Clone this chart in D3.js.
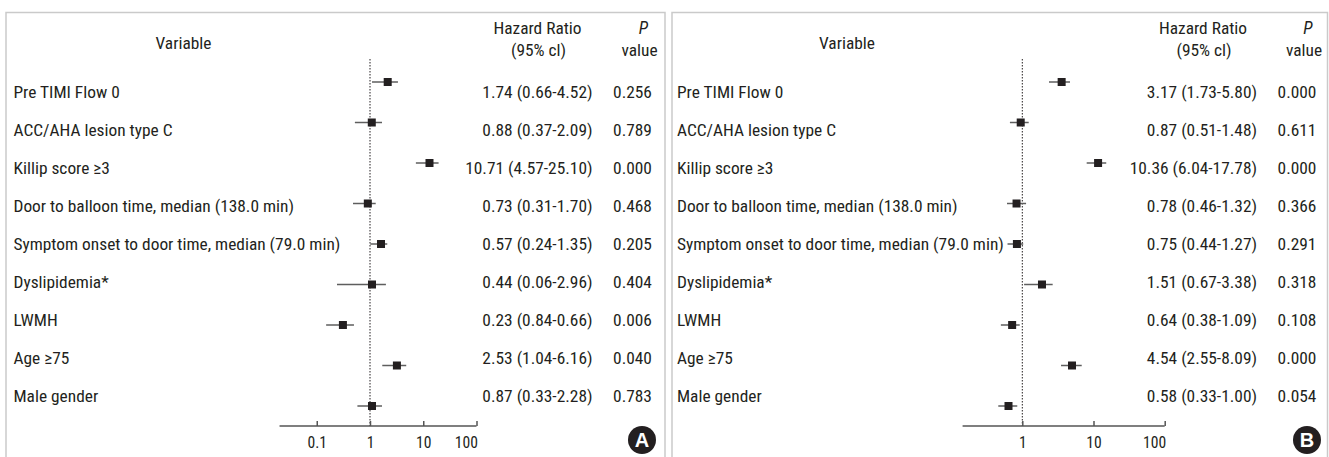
<!DOCTYPE html>
<html>
<head>
<meta charset="utf-8">
<script src="https://cdn.jsdelivr.net/npm/d3@7"></script>
<style>
  body { margin: 0; background: #fff; }
  svg text { font-family: "Liberation Sans Narrow", "Arial Narrow", Roboto, sans-serif; font-stretch: condensed; fill: #231f20; }
</style>
</head>
<body>
<svg id="chart"></svg>
<script>
// row labels (same in both panels)
var variables = [
  "Pre TIMI Flow 0",
  "ACC/AHA lesion type C",
  "Killip score \u22653",
  "Door to balloon time, median (138.0 min)",
  "Symptom onset to door time, median (79.0 min)",
  "Dyslipidemia*",
  "LWMH",
  "Age \u226575",
  "Male gender"
];

// printed columns, panel A
var hrTextA = ["1.74 (0.66-4.52)", "0.88 (0.37-2.09)", "10.71 (4.57-25.10)", "0.73 (0.31-1.70)",
  "0.57 (0.24-1.35)", "0.44 (0.06-2.96)", "0.23 (0.84-0.66)", "2.53 (1.04-6.16)", "0.87 (0.33-2.28)"];
var pTextA = ["0.256", "0.789", "0.000", "0.468", "0.205", "0.404", "0.006", "0.040", "0.783"];

// printed columns, panel B
var hrTextB = ["3.17 (1.73-5.80)", "0.87 (0.51-1.48)", "10.36 (6.04-17.78)", "0.78 (0.46-1.32)",
  "0.75 (0.44-1.27)", "1.51 (0.67-3.38)", "0.64 (0.38-1.09)", "4.54 (2.55-8.09)", "0.58 (0.33-1.00)"];
var pTextB = ["0.000", "0.611", "0.000", "0.366", "0.291", "0.318", "0.108", "0.000", "0.054"];

// plotted marks (they do not sit exactly at the printed values)
var estA  = [2.15, 1.08, 13.1, 0.91, 1.61, 1.09, 0.31, 3.2, 1.09];
var lowA  = [1.09, 0.52, 7.27, 0.48, 1.01, 0.24, 0.15, 1.70, 0.58];
var highA = [3.35, 1.68, 19.4, 1.28, 2.11, 1.99, 0.50, 4.79, 1.68];

var estB  = [3.57, 0.95, 11.6, 0.83, 0.84, 1.89, 0.72, 4.99, 0.64];
var lowB  = [2.37, 0.67, 8.02, 0.61, 0.62, 1.06, 0.50, 3.50, 0.46];
var highB = [4.68, 1.23, 15.1, 1.13, 1.03, 2.67, 0.92, 6.83, 0.85];

var ticksA = [0.1, 1, 10, 100];
var ticksB = [1, 10, 100];

var width = 1329, height = 457;
var svg = d3.select("#chart").attr("width", width).attr("height", height);

// pick a font size so the longest label is as wide as in the original (~327px)
var probe = svg.append("text").style("font-size", "20px").text(variables[4]);
var fontSize = 20 * 327 / probe.node().getComputedTextLength();
probe.remove();
var tickSize = fontSize * 0.9;

// text rows and marker rows are spaced a little differently in the original
var textY = d3.scalePoint().domain(d3.range(9)).range([92, 396]);
var markY = d3.scalePoint().domain(d3.range(9)).range([82, 406]);

function drawPanel(p) {
  var g = svg.append("g").style("font-size", fontSize + "px");

  // frame (open at bottom)
  g.append("path")
    .attr("d", "M" + p.left + "," + height + "V12.5H" + p.right + "V" + height)
    .attr("fill", "none")
    .attr("stroke", "#cacaca")
    .attr("stroke-width", 1.5);

  // headers
  g.append("text").attr("x", p.varX).attr("y", 43).attr("text-anchor", "middle")
    .attr("dy", "0.35em").text("Variable");
  g.append("text").attr("x", p.hrHeadX).attr("y", 28).attr("text-anchor", "middle")
    .attr("dy", "0.35em").text("Hazard Ratio");
  g.append("text").attr("x", p.hrHeadX + 1).attr("y", 50).attr("text-anchor", "middle")
    .attr("dy", "0.35em").text("(95% cl)");
  g.append("text").attr("x", p.pHeadX + 4).attr("y", 28).attr("text-anchor", "middle")
    .attr("dy", "0.35em").style("font-style", "italic").text("P");
  g.append("text").attr("x", p.pHeadX).attr("y", 50).attr("text-anchor", "middle")
    .attr("dy", "0.35em").text("value");

  // row labels and printed values
  g.append("g").selectAll("text").data(variables).enter().append("text")
    .attr("x", p.labelX).attr("y", function (d, i) { return textY(i); })
    .attr("dy", "0.35em").text(function (d) { return d; });
  g.append("g").selectAll("text").data(p.hrText).enter().append("text")
    .attr("x", p.hrRight).attr("y", function (d, i) { return textY(i); })
    .attr("dy", "0.35em").attr("text-anchor", "end").text(function (d) { return d; });
  g.append("g").selectAll("text").data(p.pText).enter().append("text")
    .attr("x", p.pX).attr("y", function (d, i) { return textY(i); })
    .attr("dy", "0.35em").attr("text-anchor", "middle").text(function (d) { return d; });

  // log scale
  var x = d3.scaleLog().domain([1, 100]).range(p.xRange);

  // reference line at 1
  g.append("line")
    .attr("x1", x(1)).attr("x2", x(1)).attr("y1", 59).attr("y2", 426)
    .attr("stroke", "#231f20").attr("stroke-width", 1).attr("stroke-dasharray", "1.5,1.5");

  // axis
  var axis = g.append("g").attr("transform", "translate(0,426)")
    .call(d3.axisBottom(x).tickValues(p.ticks).tickFormat(d3.format("~g"))
      .tickSizeInner(-5).tickSizeOuter(0).tickPadding(11));
  axis.select(".domain").remove();
  axis.selectAll(".tick line").attr("stroke", "#555").attr("stroke-width", 1.5);
  axis.selectAll(".tick text").style("font-size", tickSize + "px").attr("fill", "#231f20")
    .style("font-family", null)
    .attr("text-anchor", function (d) { return d === 100 ? "end" : "middle"; })
    .attr("x", function (d) { return d === 100 ? 1 : 0; });
  axis.attr("font-family", null);
  axis.append("line").attr("x1", x(p.axisMin)).attr("x2", x(100))
    .attr("stroke", "#555").attr("stroke-width", 1.5);

  // CI lines
  g.append("g").selectAll("line").data(p.est).enter().append("line")
    .attr("x1", function (d, i) { return x(p.low[i]); })
    .attr("x2", function (d, i) { return x(p.high[i]); })
    .attr("y1", function (d, i) { return markY(i); })
    .attr("y2", function (d, i) { return markY(i); })
    .attr("stroke", "#5e5e5e").attr("stroke-width", 1.5);

  // squares
  var s = 8;
  g.append("g").selectAll("rect").data(p.est).enter().append("rect")
    .attr("x", function (d) { return x(d) - s / 2; })
    .attr("y", function (d, i) { return markY(i) - s / 2; })
    .attr("width", s).attr("height", s)
    .attr("fill", "#231f20");

  // panel badge
  g.append("circle").attr("cx", p.badgeX).attr("cy", 440).attr("r", 14).attr("fill", "#231f20");
  g.append("text").attr("x", p.badgeX).attr("y", 440).attr("dy", "0.36em")
    .attr("text-anchor", "middle")
    .style("fill", "#fff").style("font-weight", "bold").style("font-size", "20px")
    .style("font-family", '"Liberation Sans", Arial, sans-serif').style("font-stretch", "normal")
    .text(p.badge);
}

drawPanel({
  left: 6, right: 665, labelX: 13.5, varX: 183.5, hrHeadX: 537.5, hrRight: 592.5,
  pX: 632.5, pHeadX: 639.5,
  hrText: hrTextA, pText: pTextA, est: estA, low: lowA, high: highA,
  xRange: [370, 476.5], ticks: ticksA, axisMin: 0.02, badgeX: 642, badge: "A"
});

drawPanel({
  left: 672, right: 1327.5, labelX: 677, varX: 847, hrHeadX: 1203, hrRight: 1257,
  pX: 1297, pHeadX: 1304,
  hrText: hrTextB, pText: pTextB, est: estB, low: lowB, high: highB,
  xRange: [1022.3, 1164.7], ticks: ticksB, axisMin: 0.145, badgeX: 1307, badge: "B"
});
</script>
</body>
</html>
